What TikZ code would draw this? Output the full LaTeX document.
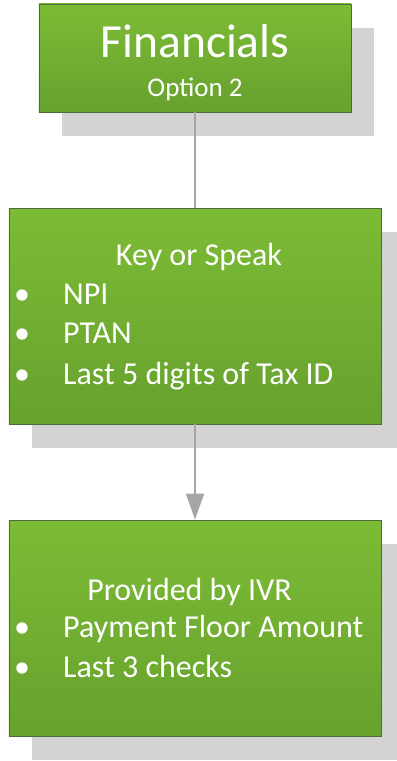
\documentclass[tikz,border=0pt]{standalone}
\usepackage{fontspec}
\setmainfont{Carlito}
\usetikzlibrary{shadows,arrows.meta}
\definecolor{greentop}{HTML}{7CBB35}
\definecolor{greenbot}{HTML}{67A22E}
\definecolor{edgegreen}{HTML}{4F6B3A}
\definecolor{shadowgray}{HTML}{D3D3D3}
\definecolor{conngray}{HTML}{A6A6A6}
\begin{document}
\begin{tikzpicture}[x=1bp,y=-1bp,
  box/.style={draw=edgegreen,line width=0.8bp,top color=greentop,bottom color=greenbot,
    drop shadow={shadow xshift=23bp,shadow yshift=-24bp,fill=shadowgray,opacity=1}},
  conn/.style={draw=conngray,line width=2bp},
  txt/.style={text=white,inner sep=0pt,font=\fontsize{32bp}{38bp}\selectfont}]
\useasboundingbox(0,0)rectangle(396,761);
\node[box,minimum width=312bp,minimum height=108bp](fin)at(195,58){};
\node[box,minimum width=372bp,minimum height=216bp](keys)at(195,316){};
\node[box,minimum width=372bp,minimum height=216bp](ivr)at(195,628){};
\draw[conn](fin.south)--(keys.north);
\draw[conn,-{Triangle[length=26bp,width=18bp]}](keys.south)--(ivr.north);
% top box
\node[txt,anchor=base,font=\fontsize{47.5bp}{57bp}\selectfont](title)at(195,58){Financials};
\node[txt,anchor=base,font=\fontsize{27bp}{32bp}\selectfont](opt)at(195,96){Option 2};
% middle box
\node[txt,anchor=base](keyhead)at(199,265){Key or Speak};
\foreach \t/\y/\n in {NPI/304/1,PTAN/343/2,Last 5 digits of Tax ID/384/3}{
  \node[txt,anchor=base](kb\n)at(22,\y){\textbullet};
  \node[txt,anchor=base west](ki\n)at(63,\y){\t};}
% bottom box
\node[txt,anchor=base](ivrhead)at(189.5,600){Provided by IVR};
\foreach \t/\y/\n in {Payment Floor Amount/637/1,Last 3 checks/677/2}{
  \node[txt,anchor=base](ib\n)at(22,\y){\textbullet};
  \node[txt,anchor=base west](ii\n)at(63,\y){\t};}
\end{tikzpicture}
\end{document}
